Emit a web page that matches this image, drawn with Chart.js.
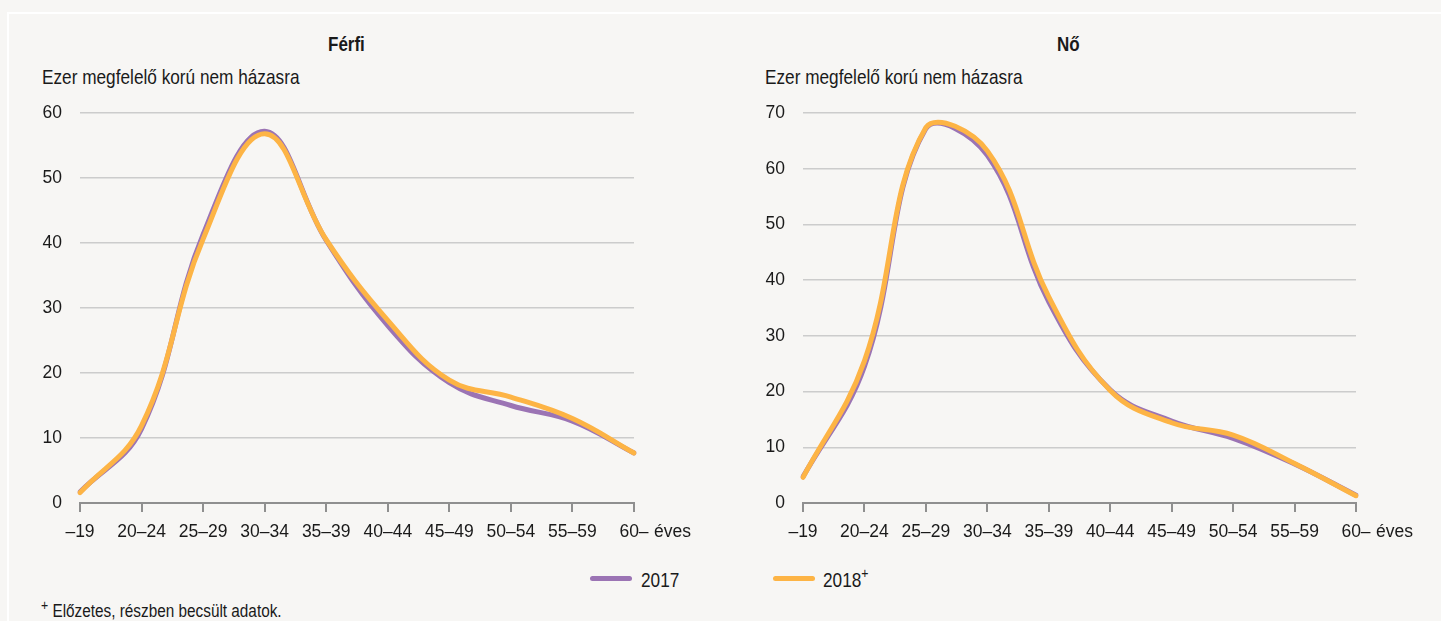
<!DOCTYPE html>
<html>
<head>
<meta charset="utf-8">
<script src="https://cdn.jsdelivr.net/npm/chart.js@4"></script>
<style>
  body { margin: 0; background: #f7f6f4; font-family: 'Liberation Sans', Arial, sans-serif; color: #1a1a1a; }
  #page { position: relative; width: 1441px; height: 621px; overflow: hidden; }
  .frame { position: absolute; left: 7px; top: 12px; right: -10px; bottom: -10px; border-top: 2px solid #fff; border-left: 2px solid #fff; }
  .abs { position: absolute; white-space: nowrap; transform-origin: left top; transform: scaleX(0.82); line-height: 1; }
  .title { font-weight: bold; font-size: 20px; transform: scaleX(0.85); }
  .unit { font-size: 21px; }
  .sw { position: absolute; width: 42px; height: 5px; border-radius: 3px; }
  sup { font-size: 15px; position: relative; vertical-align: baseline; }
</style>
</head>
<body>
<div id="page">
  <div class="frame"></div>
  <div class="abs title" style="left:328px; top:34px;">Férfi</div>
  <div class="abs title" style="left:1057px; top:34px;">Nő</div>
  <div class="abs unit" style="left:42px; top:66px;">Ezer megfelelő korú nem házasra</div>
  <div class="abs unit" style="left:765px; top:66px;">Ezer megfelelő korú nem házasra</div>
  <div style="position:absolute; left:0; top:0;"><canvas id="c1" width="720" height="550"></canvas></div>
  <div style="position:absolute; left:720px; top:0;"><canvas id="c2" width="721" height="550"></canvas></div>
  <div class="sw" style="left:590px; top:576px; background:#9b74b4;"></div>
  <div class="abs unit" style="left:641px; top:569px;">2017</div>
  <div class="sw" style="left:773px; top:576px; background:#fdb445;"></div>
  <div class="abs unit" style="left:823px; top:569px;">2018<sup style="top:-9px;">+</sup></div>
  <div class="abs" style="left:41px; top:602px; font-size:18.7px;"><sup style="top:-7px;">+</sup> Előzetes, részben becsült adatok.</div>
</div>
<script>
const categories = ['–19', '20–24', '25–29', '30–34', '35–39', '40–44', '45–49', '50–54', '55–59', '60–'];
const ferfi2017 = [1.7, 11.4, 41.3, 57.2, 40.4, 27.3, 18.5, 15.0, 12.6, 7.7];
const ferfi2018 = [1.6, 11.9, 40.6, 56.8, 40.5, 28.1, 18.9, 16.3, 13.0, 7.7];
const no2017 = [4.7, 24.5, 67.2, 62.4, 36.1, 20.3, 14.7, 11.6, 7.0, 1.4];
const no2018 = [4.6, 25.5, 67.4, 63.2, 37.0, 20.2, 14.4, 12.2, 7.1, 1.3];
const yMaxFerfi = 60;
const yMaxNo = 70;

const fontFam = "'Liberation Sans', Arial, sans-serif";
const purple = '#9b74b4';
const orange = '#fdb445';

// "éves" felirat a vízszintes tengely végén
const evesPlugin = {
  id: 'eves',
  afterDraw(chart) {
    const x = chart.scales.x;
    const ctx = chart.ctx;
    ctx.save();
    ctx.font = '17.5px ' + fontFam;
    ctx.fillStyle = '#1a1a1a';
    ctx.textBaseline = 'middle';
    ctx.textAlign = 'left';
    ctx.fillText('éves', x.right + 20, 532);
    ctx.restore();
  }
};

function makeChart(id, d17, d18, yMax, yWidth, padRight) {
  const ctx = document.getElementById(id).getContext('2d');
  return new Chart(ctx, {
    type: 'line',
    data: {
      labels: categories,
      datasets: [
        { label: '2018', data: d18, borderColor: orange, borderWidth: 5, tension: 0.4, pointRadius: 0, borderCapStyle: 'round' },
        { label: '2017', data: d17, borderColor: purple, borderWidth: 5, tension: 0.4, pointRadius: 0, borderCapStyle: 'round' }
      ]
    },
    options: {
      responsive: false,
      animation: false,
      layout: { padding: { top: 113, left: 0, right: padRight, bottom: 0 } },
      plugins: { legend: { display: false }, tooltip: { enabled: false } },
      scales: {
        x: {
          grid: { drawOnChartArea: false, drawTicks: true, tickLength: 9, color: '#8f8f8f', lineWidth: 2 },
          border: { display: true, color: '#8f8f8f', width: 2 },
          ticks: { color: '#1a1a1a', font: { family: fontFam, size: 17.5 }, padding: 10, maxRotation: 0, autoSkip: false },
          afterFit(scale) { scale.height = 47; }
        },
        y: {
          min: 0, max: yMax,
          grid: { color: '#cccccc', lineWidth: 1.5, drawTicks: false },
          border: { display: false },
          ticks: { stepSize: 10, color: '#1a1a1a', font: { family: fontFam, size: 17.5 }, padding: 18 },
          afterFit(scale) { scale.width = yWidth; }
        }
      }
    },
    plugins: [evesPlugin]
  });
}

makeChart('c1', ferfi2017, ferfi2018, yMaxFerfi, 80, 86);
makeChart('c2', no2017, no2018, yMaxNo, 83, 85);
</script>
</body>
</html>
